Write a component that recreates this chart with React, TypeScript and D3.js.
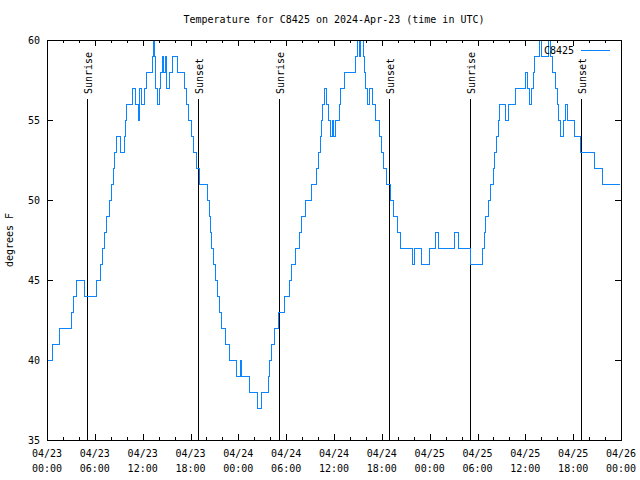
import React from "react";
import * as d3 from "d3";

const TITLE = "Temperature for C8425 on 2024-Apr-23 (time in UTC)";
const SERIES = "C8425";
const Y_LABEL = "degrees F";
const START = Date.UTC(2024, 3, 23, 0, 0);
const END = Date.UTC(2024, 3, 26, 0, 0);

// hours since 2024-04-23 00:00 UTC where the reading changes, and the reading (°F)
const stepHours = [
  0.0, 0.6, 1.5, 3.0, 3.3, 3.7, 4.6, 6.2, 6.6, 6.95, 7.2, 7.45, 7.75, 8.0, 8.25, 8.45, 8.6,
  9.2, 9.6, 9.75, 9.9, 10.6, 11.1, 11.45, 11.55, 11.85, 12.2, 12.4, 13.2, 13.3, 13.45, 13.6,
  13.85, 14.1, 14.2, 14.4, 14.55, 14.75, 14.95, 15.3, 15.7, 16.3, 17.2, 17.45, 17.7, 18.0,
  18.3, 18.75, 19.05, 20.05, 20.3, 20.45, 20.6, 20.8, 21.05, 21.35, 21.6, 21.85, 22.3, 22.8,
  23.7, 24.2, 24.35, 25.4, 26.3, 26.85, 27.7, 27.9, 28.15, 28.5, 29.0, 29.75, 30.3, 30.65,
  31.1, 31.65, 31.9, 32.4, 33.1, 33.8, 34.0, 34.2, 34.35, 34.5, 34.8, 35.05, 35.25, 35.45,
  35.7, 35.85, 36.1, 36.35, 36.6, 36.8, 37.3, 38.6, 38.9, 39.1, 39.3, 39.6, 39.75, 39.9,
  40.1, 40.45, 40.8, 41.2, 41.7, 41.95, 42.2, 42.55, 43.0, 43.35,
  43.85, 44.25, 45.8, 46.0, 46.9, 47.9, 48.7, 49.1, 51.0, 51.6, 53.0, 54.55, 54.8, 55.0,
  55.3, 55.55, 55.95, 56.1, 56.3, 56.55, 56.75, 57.4, 57.8, 58.65, 60.0, 60.25, 60.5, 60.75,
  60.95, 61.1, 61.7, 61.95, 62.8, 63.1, 63.3, 63.75, 63.95, 64.15, 64.4, 64.75, 64.95, 65.25,
  66.05, 66.8, 68.6, 69.6, 71.7,
];
const stepTemps = [
  40, 41, 42, 43, 44, 45, 44, 45, 46, 47, 48, 49, 50, 51, 52, 53, 54,
  53, 54, 55, 56, 57, 56, 55, 57, 56, 57, 58, 59, 60, 59, 57,
  56, 57, 58, 59, 58, 59, 57, 58, 59, 58, 57, 56, 55, 54,
  53, 52, 51, 50, 49, 48, 47, 46, 45, 44, 43, 42, 41, 40,
  39, 40, 39, 38, 37, 38, 39, 40, 41, 42, 43, 44, 45, 46,
  47, 48, 49, 50, 51, 52, 53, 54, 55, 56, 57, 56, 55, 54,
  55, 54, 55, 55, 56, 57, 58, 59, 60, 59, 60, 59, 58, 57,
  56, 57, 56, 55, 54, 53, 52, 51, 50, 49,
  48, 47, 46, 47, 46, 47, 48, 47, 48, 47, 46, 47, 48, 49,
  50, 51, 52, 53, 54, 55, 56, 55, 56, 57, 58, 57, 56, 57,
  58, 59, 60, 59, 60, 59, 58, 57, 56, 55, 54, 55, 56, 55,
  54, 53, 52, 51, 51,
];

const sunriseHours = [5.07, 29.12, 53.1];
const sunsetHours = [18.9, 42.95, 66.93];
const yTicks = [35, 40, 45, 50, 55, 60];

const FONT = "'DejaVu Sans Mono', monospace";
const W = 640, H = 480;
const L = 47, R = 621, T = 40, B = 440;
const LINE_COLOR = "#0a84ff";

export default function App() {
  const x = d3.scaleUtc().domain([new Date(START), new Date(END)]).range([L, R]);
  const y = d3.scaleLinear().domain([35, 60]).range([B, T]);
  const hToDate = (h: number) => new Date(START + h * 3600 * 1000);

  const data = stepHours.map((h, i) => ({ t: hToDate(h), v: stepTemps[i] }));
  const line = d3
    .line<{ t: Date; v: number }>()
    .x((d) => Math.round(x(d.t)) + 0.5)
    .y((d) => Math.round(y(d.v)) + 0.5)
    .curve(d3.curveStepAfter);

  const majorTicks = d3.utcHour.every(6)!.range(new Date(START), new Date(END + 1));
  const minorTicks = d3.utcHour.every(2)!.range(new Date(START), new Date(END + 1));
  const fmtDate = d3.utcFormat("%m/%d");
  const fmtTime = d3.utcFormat("%H:%M");

  const events = [
    ...sunriseHours.map((h) => ({ h, label: "Sunrise" })),
    ...sunsetHours.map((h) => ({ h, label: "Sunset" })),
  ];

  const px = (v: number) => Math.round(v) + 0.5;

  return (
    <svg width={W} height={H} style={{ position: "absolute", left: 0, top: 0, background: "#fff" }}
      fontFamily={FONT} fontSize={10}>
      <rect x={0} y={0} width={W} height={H} fill="#fff" />
      <text x={(L + R) / 2} y={23} textAnchor="middle" fill="#000">{TITLE}</text>

      {minorTicks.map((d, i) => (
        <g key={"mn" + i} stroke="#000" strokeWidth={1} shapeRendering="crispEdges">
          <line x1={px(x(d))} x2={px(x(d))} y1={B} y2={B - 3} />
          <line x1={px(x(d))} x2={px(x(d))} y1={T} y2={T + 3} />
        </g>
      ))}
      {majorTicks.map((d, i) => (
        <g key={"mj" + i}>
          <g stroke="#000" strokeWidth={1} shapeRendering="crispEdges">
            <line x1={px(x(d))} x2={px(x(d))} y1={B} y2={B - 6} />
            <line x1={px(x(d))} x2={px(x(d))} y1={T} y2={T + 6} />
          </g>
          <text x={x(d)} y={457} textAnchor="middle" fill="#000">{fmtDate(d)}</text>
          <text x={x(d)} y={472} textAnchor="middle" fill="#000">{fmtTime(d)}</text>
        </g>
      ))}
      {yTicks.map((v) => (
        <g key={"y" + v}>
          <g stroke="#000" strokeWidth={1} shapeRendering="crispEdges">
            <line x1={L} x2={L + 6} y1={px(y(v))} y2={px(y(v))} />
            <line x1={R} x2={R - 6} y1={px(y(v))} y2={px(y(v))} />
          </g>
          <text x={40} y={y(v) + 4} textAnchor="end" fill="#000">{v}</text>
        </g>
      ))}
      <text transform={`translate(13,${(T + B) / 2}) rotate(-90)`} textAnchor="middle" fill="#000">{Y_LABEL}</text>

      {events.map((e, i) => {
        const ex = px(x(hToDate(e.h)));
        return (
          <g key={"ev" + i}>
            <line x1={ex} x2={ex} y1={99} y2={B} stroke="#000" strokeWidth={1} shapeRendering="crispEdges" />
            <text transform={`translate(${ex + 4},94) rotate(-90)`} textAnchor="start" fill="#000">{e.label}</text>
          </g>
        );
      })}

      <path d={line(data) ?? ""} fill="none" stroke={LINE_COLOR} strokeWidth={1} shapeRendering="crispEdges" />

      <text x={574} y={54} textAnchor="end" fill="#000">{SERIES}</text>
      <line x1={581} x2={610} y1={50.5} y2={50.5} stroke={LINE_COLOR} strokeWidth={1} shapeRendering="crispEdges" />

      <rect x={L + 0.5} y={T + 0.5} width={R - L} height={B - T} fill="none" stroke="#000" strokeWidth={1} shapeRendering="crispEdges" />
    </svg>
  );
}
